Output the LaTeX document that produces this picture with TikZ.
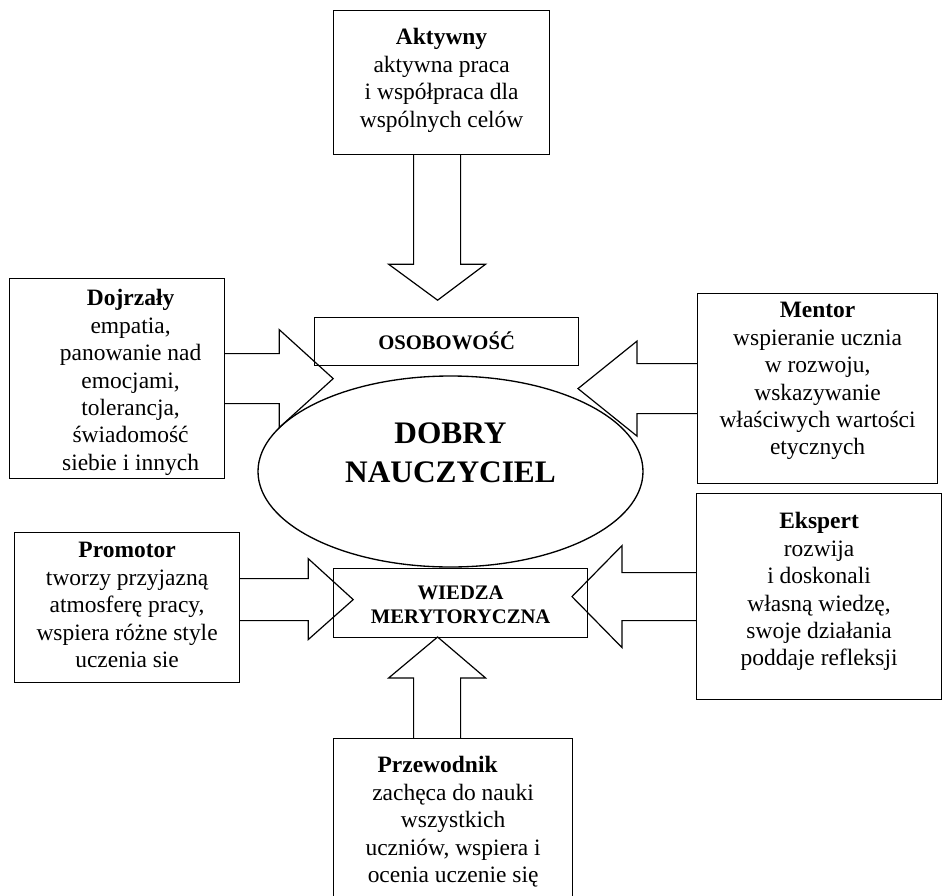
\documentclass[tikz,border=0pt]{standalone}
\usepackage{fontspec}
\setmainfont{Liberation Serif}
\usepackage{tikz}
\usetikzlibrary{shapes.geometric}
\newlength{\pxu}
\setlength{\pxu}{0.75pt}
% text block: width, height, first baseline (all in px), text
\newcommand{\boxtxt}[4]{\begin{minipage}[t][#2\pxu][t]{#1\pxu}\centering
  \vspace*{\dimexpr#3\pxu-22\pxu\relax}\rule{0pt}{22\pxu}#4\end{minipage}}

\begin{document}
\begin{tikzpicture}[x=0.75pt,y=-0.75pt,
  box/.style={draw,line width=0.9pt,anchor=north west,inner sep=0pt,
    font=\fontsize{17.6}{20.6}\selectfont},
  tag/.style={draw,line width=0.9pt,anchor=north west,inner sep=0pt,
    font=\fontsize{15.5}{18}\selectfont\bfseries},
  fat/.style={draw,line width=0.9pt,line join=miter}]
 \useasboundingbox (0,0) rectangle (943,896);
 \clip (0,0) rectangle (943,896);

 \node[box] (akt) at (333,10) {\boxtxt{216}{144}{34}{\textbf{Aktywny}\\aktywna praca\\i współpraca dla\\wspólnych celów}};
 \node[box] (doj) at (9,278) {\hspace*{27\pxu}\boxtxt{188}{200}{27}{\textbf{Dojrzały}\\empatia,\\panowanie nad\\emocjami,\\tolerancja,\\świadomość\\siebie i innych}};
 \node[box] (men) at (697,293) {\boxtxt{240}{190}{24}{\textbf{Mentor}\\wspieranie ucznia\\w rozwoju,\\wskazywanie\\właściwych wartości\\etycznych}};
 \node[box] (pro) at (14,532) {\boxtxt{225}{150}{25}{\textbf{Promotor}\\tworzy przyjazną\\atmosferę pracy,\\wspiera różne style\\uczenia sie}};
 \node[box] (eks) at (696,493) {\boxtxt{245}{206}{35}{\textbf{Ekspert}\\rozwija\\i doskonali\\własną wiedzę,\\swoje działania\\poddaje refleksji}};
 \node[box] (prz) at (333,738) {\boxtxt{239}{170}{34}{\textbf{Przewodnik}\hspace{31\pxu}\mbox{}\\zachęca do nauki\\wszystkich\\uczniów, wspiera i\\ocenia uczenie się}};

 \node[tag] (oso) at (314,317) {\boxtxt{264}{48}{31.7}{OSOBOWOŚĆ}};
 \node[tag] (wie) at (333,568) {\boxtxt{254}{69}{31.3}{WIEDZA\\MERYTORYCZNA}};

 %%%%%%%%%%%%%%%%%%%%%%%%%%%%%%%%%%%
 \draw[fat] (akt.south) ++(-28,0) --++(0,109) --++(-25,0) --++(49,36) --++(48,-36) --++(-25,0) --++(0,-109);
 \draw[fat] (doj.east) ++(0,-25) --++(54,0) --++(0,-24) --++(54,49) --++(-54,49) --++(0,-24) --++(-54,0);
 \draw[fat] (men.west) ++(0,-25) --++(-60,0) --++(0,-22.5) --++(-59,47.5) --++(59,47.5) --++(0,-22.5) --++(60,0);
 \draw[fat] (pro.east) ++(0,-29) --++(68,0) --++(0,-20) --++(45,41) --++(-45,40) --++(0,-19) --++(-68,0);
 \draw[fat] (eks.west) ++(0,-24) --++(-74,0) --++(0,-27) --++(-50,51) --++(50,51) --++(0,-27) --++(74,0);
 \draw[fat] (prz.north) ++(-39.5,0) --++(0,-60) --++(-25,0) --++(49,-41) --++(48,41) --++(-25,0) --++(0,60);

 \node[draw,ellipse,line width=1pt,inner sep=0pt,minimum width=288.75pt,minimum height=143.25pt,
   font=\fontsize{23.5}{29.3}\selectfont\bfseries] (dob) at (450.5,471.5) {\boxtxt{240}{100}{21.5}{DOBRY\\NAUCZYCIEL}};
\end{tikzpicture}
\end{document}
